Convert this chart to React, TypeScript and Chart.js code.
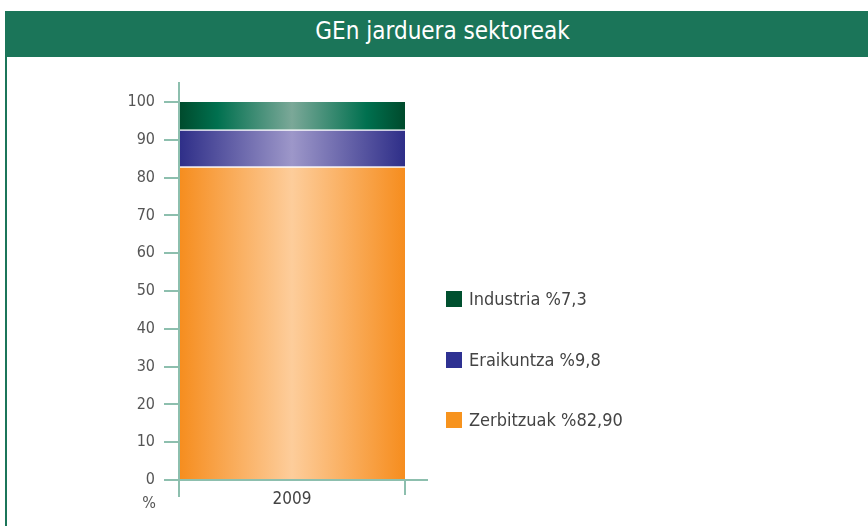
import React, { useEffect, useRef } from "react";
import { Chart, registerables } from "chart.js";

Chart.register(...registerables);

const categories = ["2009"];
const seriesLabels = ["Zerbitzuak %82,90", "Eraikuntza %9,8", "Industria %7,3"];
const zerbitzuak = [82.9];
const eraikuntza = [9.8];
const industria = [7.3];
const yMin = 0;
const yMax = 100;
const yStep = 10;
const title = "GEn jarduera sektoreak";
const unitLabel = "%";

const FONT = '"Liberation Sans Narrow", "DejaVu Sans Condensed", "Liberation Sans", sans-serif';
const AXIS = "#8dbfae";
const GREEN = "#1b7559";

type Stop = [number, string];
const stopsZ: Stop[] = [[0, "#f68d1e"], [0.5, "#fdcd9b"], [1, "#f68d1e"]];
const stopsE: Stop[] = [[0, "#2e2e88"], [0.5, "#9d97c9"], [1, "#2e2e88"]];
const stopsI: Stop[] = [[0, "#004a2c"], [0.17, "#00704f"], [0.5, "#7ba898"], [0.83, "#00704f"], [1, "#004a2c"]];
const legendColors = ["#f7931e", "#2e3192", "#00502f"];

function grad(stops: Stop[], fallback: string) {
  return (c: any) => {
    const chart = c.chart;
    const area = chart.chartArea;
    if (!area) return fallback;
    const g = chart.ctx.createLinearGradient(area.left, 0, area.right, 0);
    stops.forEach(([o, col]) => g.addColorStop(o, col));
    return g;
  };
}

const extrasPlugin = {
  id: "extras",
  afterDraw(chart: any) {
    const { ctx, chartArea } = chart;
    const y = chart.scales.y;
    const y0 = y.getPixelForValue(yMin);
    const yTop = y.getPixelForValue(yMax);
    ctx.save();
    ctx.strokeStyle = AXIS;
    ctx.lineWidth = 2;
    ctx.beginPath();
    ctx.moveTo(chartArea.left, yTop - 20);
    ctx.lineTo(chartArea.left, y0 + 17);
    ctx.moveTo(chartArea.left, y0);
    ctx.lineTo(chartArea.right + 23, y0);
    ctx.moveTo(chartArea.right, y0);
    ctx.lineTo(chartArea.right, y0 + 15);
    ctx.stroke();

    ctx.fillStyle = "#555";
    ctx.font = `16px ${FONT}`;
    ctx.textAlign = "center";
    ctx.textBaseline = "middle";
    ctx.fillText(unitLabel, chartArea.left - 30, y0 + 24);

    // legend (reverse order)
    const ds = chart.data.datasets;
    const lx = chartArea.right + 41;
    const centers = [420, 360, 299];
    ctx.font = `18px ${FONT}`;
    ctx.textAlign = "left";
    for (let i = 0; i < ds.length; i++) {
      const cy = centers[i];
      ctx.fillStyle = legendColors[i];
      ctx.fillRect(lx, cy - 8, 16, 16);
      ctx.fillStyle = "#444";
      ctx.fillText(ds[i].label, lx + 23, cy + 1);
    }
    ctx.restore();
  },
};

export default function App() {
  const ref = useRef<HTMLCanvasElement | null>(null);
  useEffect(() => {
    if (!ref.current) return;
    const chart = new Chart(ref.current, {
      type: "bar",
      data: {
        labels: categories,
        datasets: [
          {
            label: seriesLabels[0],
            data: zerbitzuak,
            backgroundColor: grad(stopsZ, "#f68d1e"),
            borderColor: "#ffffff",
            borderWidth: { top: 1.5, left: 0, right: 0, bottom: 0 },
            borderSkipped: false,
          },
          {
            label: seriesLabels[1],
            data: eraikuntza,
            backgroundColor: grad(stopsE, "#2e2e88"),
            borderColor: "#ffffff",
            borderWidth: { top: 1.5, left: 0, right: 0, bottom: 0 },
            borderSkipped: false,
          },
          {
            label: seriesLabels[2],
            data: industria,
            backgroundColor: grad(stopsI, "#004a2c"),
            borderWidth: 0,
          },
        ],
      },
      options: {
        animation: false,
        responsive: false,
        maintainAspectRatio: false,
        layout: { padding: { left: 0, right: 463, top: 102, bottom: 0 } },
        plugins: { legend: { display: false }, tooltip: { enabled: false }, title: { display: false } },
        datasets: { bar: { barPercentage: 1, categoryPercentage: 1 } },
        scales: {
          x: {
            stacked: true,
            grid: { display: false, drawTicks: false },
            border: { display: false },
            ticks: { color: "#444", font: { family: FONT, size: 17 }, padding: 9 },
            afterFit: (s: any) => {
              s.height = 46;
            },
          },
          y: {
            stacked: true,
            min: yMin,
            max: yMax,
            ticks: { stepSize: yStep, color: "#555", font: { family: FONT, size: 16 }, padding: 9 },
            grid: { drawOnChartArea: false, drawTicks: true, tickLength: 15, color: AXIS, lineWidth: 2 },
            border: { display: false },
            afterFit: (s: any) => {
              s.width = 179;
            },
          },
        },
      },
      plugins: [extrasPlugin],
    });
    return () => chart.destroy();
  }, []);

  return (
    <div style={{ position: "absolute", left: 0, top: 0, width: 868, height: 526, background: "#fff", overflow: "hidden" }}>
      <div
        style={{
          position: "absolute",
          left: 5,
          top: 11,
          width: 863,
          height: 46,
          background: GREEN,
          color: "#fff",
          fontFamily: FONT,
          fontSize: 24,
          lineHeight: "40px",
          textAlign: "center",
          boxSizing: "border-box",
          paddingLeft: 12,
        }}
      >
        {title}
      </div>
      <div style={{ position: "absolute", left: 5, top: 57, width: 2, height: 469, background: GREEN }} />
      <canvas ref={ref} width={868} height={526} style={{ position: "absolute", left: 0, top: 0 }} />
    </div>
  );
}
